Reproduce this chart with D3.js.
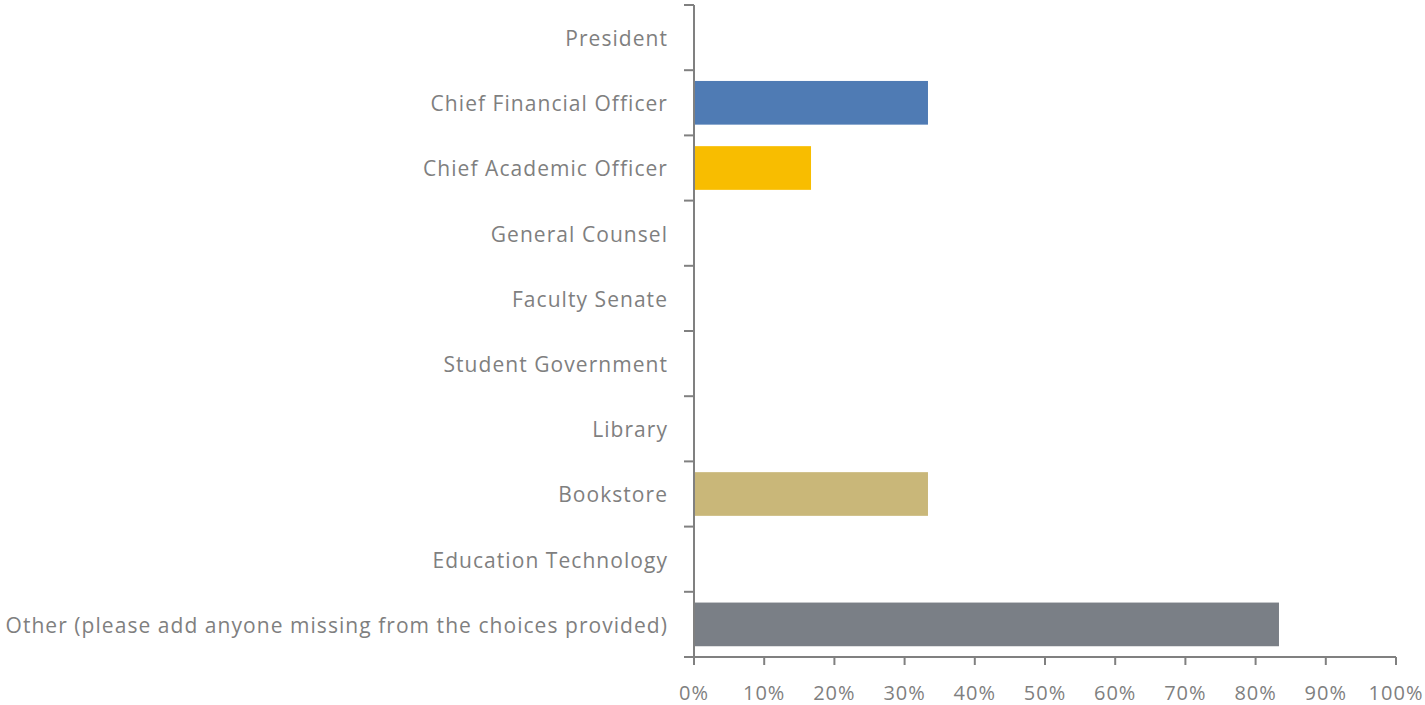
<!DOCTYPE html>
<html><head><meta charset="utf-8">
<script src="https://cdn.jsdelivr.net/npm/d3@7"></script>
<style>body{margin:0;background:#fff}svg{display:block}</style>
</head><body>
<svg id="c" width="1425" height="705"></svg>
<script>
const categories = ["President","Chief Financial Officer","Chief Academic Officer","General Counsel","Faculty Senate","Student Government","Library","Bookstore","Education Technology","Other (please add anyone missing from the choices provided)"];
const values = [0, 0.3333, 0.1667, 0, 0, 0, 0, 0.3333, 0, 0.8333];
const colors = ["#4f7bb4","#4f7bb4","#f8bd00","#c9b779","#7a7f86","#4f7bb4","#f8bd00","#c9b779","#c9b779","#7a7f86"];
const xTicks = [0,0.1,0.2,0.3,0.4,0.5,0.6,0.7,0.8,0.9,1.0];

const svg = d3.select("#c");
const mLeft = 694, mRight = 1396, mTop = 5, mBottom = 657;
const x = d3.scaleLinear().domain([0,1]).range([mLeft,mRight]);
const y = d3.scaleBand().domain(categories).range([mTop,mBottom]).paddingInner(0.33).paddingOuter(0.165);
const axisColor = "#808080";
const font = "'Open Sans', sans-serif";

svg.append("g").selectAll("rect").data(categories).join("rect")
  .attr("x", x(0)+1)
  .attr("y", d => y(d))
  .attr("width", (d,i) => Math.max(0, x(values[i]) - x(0) - 1))
  .attr("height", y.bandwidth())
  .attr("fill", (d,i) => colors[i]);

// y axis
const yAxis = svg.append("g");
yAxis.append("line").attr("x1",mLeft).attr("x2",mLeft).attr("y1",mTop).attr("y2",mBottom)
  .attr("stroke",axisColor).attr("stroke-width",2);
const step = (mBottom-mTop)/categories.length;
const sepIdx = d3.range(categories.length+1);
yAxis.selectAll("line.t").data(sepIdx).join("line").attr("class","t")
  .attr("x1",mLeft-10).attr("x2",mLeft).attr("y1",i=>mTop+i*step).attr("y2",i=>mTop+i*step)
  .attr("stroke",axisColor).attr("stroke-width",2);
yAxis.selectAll("text").data(categories).join("text")
  .attr("x", mLeft-26).attr("y", d => y(d)+y.bandwidth()/2 + 1)
  .attr("dy","0.35em").attr("text-anchor","end")
  .attr("font-family",font).attr("font-size",21).attr("letter-spacing","1.05px").attr("fill","#7f7f7f")
  .text(d=>d);

// x axis
const xAxis = svg.append("g");
xAxis.append("line").attr("x1",mLeft).attr("x2",mRight).attr("y1",mBottom).attr("y2",mBottom)
  .attr("stroke",axisColor).attr("stroke-width",2);
xAxis.selectAll("line.t").data(xTicks).join("line").attr("class","t")
  .attr("x1",d=>x(d)).attr("x2",d=>x(d)).attr("y1",mBottom).attr("y2",mBottom+8)
  .attr("stroke",axisColor).attr("stroke-width",2);
xAxis.selectAll("text").data(xTicks).join("text")
  .attr("x",d=>x(d)).attr("y",693).attr("dy","0.35em").attr("text-anchor","middle")
  .attr("font-family",font).attr("font-size",20).attr("letter-spacing","1px").attr("fill","#7f7f7f")
  .text(d=>d3.format(".0%")(d));
</script>
</body></html>
